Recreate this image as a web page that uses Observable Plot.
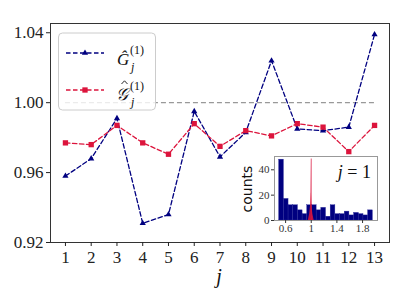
<!DOCTYPE html>
<html>
<head>
<meta charset="utf-8">
<script src="https://cdn.jsdelivr.net/npm/d3@7"></script>
<script src="https://cdn.jsdelivr.net/npm/@observablehq/plot@0.6"></script>
<style>
  html, body { margin: 0; padding: 0; background: white; }
  #wrap { position: relative; width: 416px; height: 300px; overflow: hidden; }
  #wrap > svg, #wrap > div { position: absolute; }
</style>
</head>
<body>
<div id="wrap"></div>
<script>
// ---- data ----
const js = [1, 2, 3, 4, 5, 6, 7, 8, 9, 10, 11, 12, 13];
const G_hat = [0.958, 0.968, 0.991, 0.931, 0.936, 0.995, 0.969, 0.983, 1.024, 0.985, 0.984, 0.986, 1.039];
const Gs_hat = [0.977, 0.976, 0.987, 0.977, 0.9705, 0.988, 0.975, 0.984, 0.981, 0.988, 0.986, 0.972, 0.987];
const yTicks = [0.92, 0.96, 1.00, 1.04];
const refValue = 1.0;

// inset histogram (j = 1)
const binEdges = [0.500, 0.573, 0.646, 0.719, 0.792, 0.865, 0.938, 1.011, 1.084, 1.157, 1.230,
                  1.303, 1.376, 1.449, 1.522, 1.595, 1.668, 1.741, 1.814, 1.887, 1.960];
const binCounts = [48, 17, 12, 12, 8, 5, 12, 12, 8, 10, 3, 12, 5, 5, 7, 4, 6, 5, 4, 8];
const spikeX = [0.955, 0.975, 0.99, 0.997, 1.0, 1.003, 1.01, 1.025, 1.045];
const spikeY = [0, 5, 12, 22, 48, 22, 12, 5, 0];
const insetXTicks = [0.6, 1, 1.4, 1.8];
const insetYTicks = [0, 20, 40];

const navy = "#000080", crimson = "#DC143C";
const wrap = document.getElementById("wrap");

const rows = js.map((j, i) => ({j, G: G_hat[i], S: Gs_hat[i]}));

const main = Plot.plot({
  width: 416, height: 300,
  marginLeft: 50, marginRight: 27, marginTop: 23, marginBottom: 58,
  style: {fontFamily: "Liberation Serif", fontSize: "17px", color: "#222", background: "transparent"},
  x: {domain: [0.42, 13.58]},
  y: {domain: [0.92, 1.0453]},
  marks: [
    Plot.ruleY([refValue], {x1: js[0], x2: js[js.length - 1], stroke: "#999", strokeWidth: 1.3, strokeDasharray: "5,3"}),
    Plot.line(rows, {x: "j", y: "G", stroke: navy, strokeWidth: 1.3, strokeDasharray: "4.5,2.5"}),
    Plot.dot(rows, {x: "j", y: "G", symbol: "triangle", r: 2.3, fill: navy}),
    Plot.line(rows, {x: "j", y: "S", stroke: crimson, strokeWidth: 1.3, strokeDasharray: "4.5,2.5"}),
    Plot.dot(rows, {x: "j", y: "S", symbol: "square", r: 3, fill: crimson}),
    Plot.frame({stroke: "#333", strokeWidth: 1}),
    Plot.axisX({ticks: js, tickFormat: d => String(d), tickSize: 4, tickPadding: 4, label: null}),
    Plot.axisY({ticks: yTicks, tickFormat: d3.format(".2f"), tickSize: 4, tickPadding: 3, label: null})
  ]
});
main.style.left = "0px"; main.style.top = "0px";
wrap.appendChild(main);

const bins = binCounts.map((c, i) => ({x1: binEdges[i], x2: binEdges[i + 1], c}));
const spike = spikeX.map((x, i) => ({x, y: spikeY[i]}));

const inset = Plot.plot({
  width: 151, height: 90,
  marginLeft: 38, marginRight: 10, marginTop: 6, marginBottom: 20,
  style: {fontFamily: "Liberation Serif", fontSize: "11px", color: "#333", background: "transparent"},
  x: {domain: [0.427, 2.033]},
  y: {domain: [0, 50.5]},
  marks: [
    Plot.frame({fill: "white"}),
    Plot.rectY(bins, {x1: "x1", x2: "x2", y: "c", fill: navy, stroke: "#2a2a9a", strokeWidth: 0.4}),
    Plot.areaY(spike, {x: "x", y: "y", fill: crimson, fillOpacity: 0.85, curve: "linear"}),
    Plot.ruleX([refValue], {y1: 0, y2: 48.5, stroke: crimson, strokeOpacity: 0.7, strokeWidth: 1}),
    Plot.frame({stroke: "#999", strokeWidth: 1}),
    Plot.axisX({ticks: insetXTicks, tickFormat: d => String(d), tickSize: 3, tickPadding: 1, label: null}),
    Plot.axisY({ticks: insetYTicks, tickSize: 3, tickPadding: 2, label: null})
  ]
});
inset.style.left = "236px"; inset.style.top = "150px";
wrap.appendChild(inset);

// overlay: legend, axis label, inset annotations
const ns = "http://www.w3.org/2000/svg";
const ov = document.createElementNS(ns, "svg");
ov.setAttribute("width", 416); ov.setAttribute("height", 300);
ov.style.left = "0px"; ov.style.top = "0px"; ov.style.position = "absolute";
ov.innerHTML = `
  <rect x="58.5" y="33" width="97" height="77" rx="4" fill="white" fill-opacity="0.8" stroke="#ccc" stroke-width="1"/>
  <line x1="66" y1="53" x2="104" y2="53" stroke="${navy}" stroke-width="1.3" stroke-dasharray="4.5,2.5"/>
  <path d="${d3.symbol(d3.symbolTriangle, Math.PI * 2.3 * 2.3)()}" transform="translate(85,53)" fill="${navy}"/>
  <line x1="66" y1="90" x2="104" y2="90" stroke="${crimson}" stroke-width="1.3" stroke-dasharray="4.5,2.5"/>
  <path d="${d3.symbol(d3.symbolSquare, Math.PI * 3 * 3)()}" transform="translate(85,90)" fill="${crimson}"/>
  <g font-family="Liberation Serif" fill="#111">
    <text x="117" y="65" font-size="17" font-style="italic">Ĝ</text>
    <text x="130" y="54" font-size="12">(1)</text>
    <text x="131" y="71" font-size="12" font-style="italic">j</text>
    <text x="116" y="100" font-size="17" font-style="italic">𝒢</text>
    <text x="130" y="90" font-size="12">(1)</text>
    <text x="131" y="106" font-size="12" font-style="italic">j</text>
  </g>
  <path d="M121.5,84 L124.5,80.8 L127.5,84" stroke="#111" stroke-width="0.9" fill="none"/>
  <text x="219" y="283" font-family="Liberation Serif" font-size="20" font-style="italic" text-anchor="middle" fill="#111">j</text>
  <text transform="translate(247,189) rotate(-90)" font-family="DejaVu Sans" font-size="14" text-anchor="middle" dominant-baseline="central" fill="#111">counts</text>
  <text x="371" y="178" font-family="Liberation Serif" font-size="18" text-anchor="end" fill="#111"><tspan font-style="italic">j</tspan> = 1</text>
`;
wrap.appendChild(ov);
</script>
</body>
</html>
